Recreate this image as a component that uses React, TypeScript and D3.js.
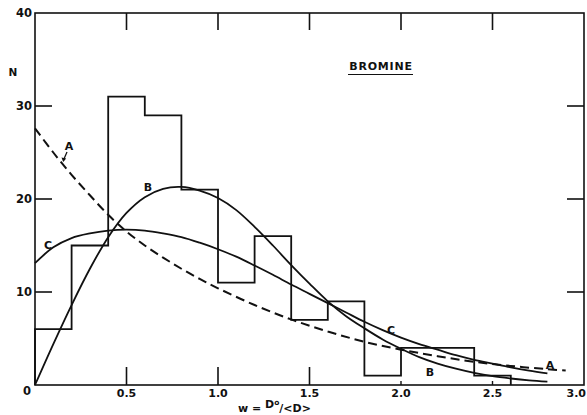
import React from "react";
import * as d3 from "d3";

// Histogram of level spacings (bin width 0.2 in w)
const binEdges = [0, 0.2, 0.4, 0.6, 0.8, 1.0, 1.2, 1.4, 1.6, 1.8, 2.0, 2.2, 2.4, 2.6];
const binCounts = [6, 15, 31, 29, 21, 11, 16, 7, 9, 1, 4, 4, 1];

// Curve A (dashed)
const curveAx = [0, 0.1, 0.2, 0.3, 0.4, 0.5, 0.6, 0.7, 0.8, 0.9, 1.0, 1.2, 1.4, 1.6, 1.8, 2.0, 2.2, 2.4, 2.6, 2.8, 2.9];
const curveAy = [27.6, 25.0, 22.6, 20.4, 18.3, 16.5, 15.0, 13.7, 12.5, 11.4, 10.4, 8.6, 7.05, 5.75, 4.65, 3.8, 3.1, 2.5, 2.05, 1.7, 1.55];

// Curve B
const curveBx = [0, 0.1, 0.2, 0.3, 0.4, 0.5, 0.6, 0.7, 0.8, 0.9, 1.0, 1.1, 1.2, 1.3, 1.4, 1.5, 1.6, 1.7, 1.8, 1.9, 2.0, 2.1, 2.2, 2.3, 2.4, 2.5, 2.6, 2.7, 2.8];
const curveBy = [0, 4.4, 8.6, 12.5, 15.9, 18.5, 20.2, 21.1, 21.3, 20.9, 20.1, 18.8, 17.0, 15.0, 12.9, 10.9, 9.0, 7.4, 6.1, 4.9, 3.9, 3.0, 2.3, 1.75, 1.3, 0.95, 0.7, 0.5, 0.36];

// Curve C
const curveCx = [0, 0.1, 0.2, 0.3, 0.4, 0.5, 0.6, 0.7, 0.8, 0.9, 1.0, 1.1, 1.2, 1.3, 1.4, 1.5, 1.6, 1.7, 1.8, 1.9, 2.0, 2.1, 2.2, 2.3, 2.4, 2.5, 2.6, 2.7, 2.8];
const curveCy = [13.1, 14.8, 15.8, 16.3, 16.6, 16.7, 16.6, 16.3, 15.9, 15.3, 14.6, 13.8, 12.85, 11.85, 10.8, 9.8, 8.8, 7.8, 6.8, 5.9, 5.1, 4.4, 3.8, 3.2, 2.7, 2.3, 1.9, 1.55, 1.25];

const xTicks = [0.5, 1.0, 1.5, 2.0, 2.5, 3.0];
const xTickLabels = ["0.5", "1.0", "1.5", "2.0", "2.5", "3.0"];
const yTicks = [0, 10, 20, 30, 40];
const yTickLabels = ["0", "10", "20", "30", "40"];

const W = 587;
const H = 415;
const FONT = "'DejaVu Sans', 'Liberation Sans', sans-serif";

export default function App() {
  const x = d3.scaleLinear().domain([0, 3]).range([35, 584]);
  const y = d3.scaleLinear().domain([0, 40]).range([385, 13]);

  // Step outline of the histogram
  const steps: [number, number][] = [[0, 0]];
  binCounts.forEach((c, i) => {
    steps.push([binEdges[i], c]);
    steps.push([binEdges[i + 1], c]);
  });
  steps.push([binEdges[binEdges.length - 1], 0]);
  const histPath = d3
    .line<[number, number]>()
    .x((d) => x(d[0]))
    .y((d) => y(d[1]))(steps) as string;

  const smooth = (xs: number[], ys: number[]) =>
    d3
      .line<number>()
      .x((_, i) => x(xs[i]))
      .y((_, i) => y(ys[i]))
      .curve(d3.curveCatmullRom.alpha(0.5))(ys) as string;

  const ink = "#111";

  return (
    <svg
      width={W}
      height={H}
      style={{ position: "absolute", left: 0, top: 0, background: "#fff" }}
      fontFamily={FONT}
    >
      <rect x={0} y={0} width={W} height={H} fill="#fff" />
      {/* frame */}
      <rect
        x={x(0)}
        y={y(40)}
        width={x(3) - x(0)}
        height={y(0) - y(40)}
        fill="none"
        stroke={ink}
        strokeWidth={1.6}
      />
      {/* left and right inner ticks */}
      {[10, 20, 30].map((t) => (
        <g key={"yt" + t}>
          <line x1={x(0)} x2={x(0) + 17} y1={y(t)} y2={y(t)} stroke={ink} strokeWidth={1.6} />
          <line x1={x(3)} x2={x(3) - 17} y1={y(t)} y2={y(t)} stroke={ink} strokeWidth={1.6} />
        </g>
      ))}
      {/* bottom ticks */}
      {[0.5, 1.0, 1.5].map((t) => (
        <line key={"xb" + t} x1={x(t)} x2={x(t)} y1={y(0)} y2={y(0) - 18} stroke={ink} strokeWidth={1.6} />
      ))}
      {[2.0, 2.5].map((t) => (
        <line key={"xs" + t} x1={x(t)} x2={x(t)} y1={y(0)} y2={y(0) - 4} stroke={ink} strokeWidth={1.4} />
      ))}
      {/* top ticks */}
      {[0.5, 1.0, 1.5, 2.0, 2.5].map((t) => (
        <line key={"xt" + t} x1={x(t)} x2={x(t)} y1={y(40)} y2={y(40) + 17} stroke={ink} strokeWidth={1.6} />
      ))}

      {/* histogram */}
      <path d={histPath} fill="none" stroke={ink} strokeWidth={1.8} strokeLinejoin="miter" />

      {/* curves */}
      <path d={smooth(curveAx, curveAy)} fill="none" stroke={ink} strokeWidth={2} strokeDasharray="9 5" />
      <path d={smooth(curveBx, curveBy)} fill="none" stroke={ink} strokeWidth={1.8} />
      <path d={smooth(curveCx, curveCy)} fill="none" stroke={ink} strokeWidth={1.8} />

      {/* curve labels */}
      <g fontSize={11} fontWeight="bold" fill={ink}>
        <text x={69} y={150} textAnchor="middle">A</text>
        <text x={148} y={191} textAnchor="middle">B</text>
        <text x={48} y={249} textAnchor="middle">C</text>
        <text x={391} y={334} textAnchor="middle">C</text>
        <text x={430} y={376} textAnchor="middle">B</text>
        <text x={550} y={369} textAnchor="middle">A</text>
      </g>
      {/* arrow from A label to dashed curve */}
      <line x1={67} y1={152} x2={63.5} y2={160} stroke={ink} strokeWidth={1.3} />
      <path d="M 61.5 157.5 L 63.2 162 L 66.2 158.6 Z" fill={ink} />

      {/* title */}
      <text x={381} y={70} textAnchor="middle" fontSize={11} fontWeight="bold" letterSpacing={0.8} fill={ink}>
        BROMINE
      </text>
      <line x1={348} x2={413} y1={74.5} y2={74.5} stroke={ink} strokeWidth={1.1} />

      {/* y tick labels */}
      <g fontSize={11.5} fontWeight="bold" fill={ink} textAnchor="end">
        {yTicks.map((t, i) => (
          <text key={"yl" + t} x={t === 0 ? 31 : 32} y={t === 0 ? y(t) + 10 : y(t) + 4}>
            {yTickLabels[i]}
          </text>
        ))}
      </g>
      <text x={13} y={76} fontSize={10.5} fontWeight="bold" textAnchor="middle" fill={ink}>N</text>

      {/* x tick labels */}
      <g fontSize={11} fontWeight="bold" fill={ink}>
        {xTicks.map((t, i) => (
          <text
            key={"xl" + t}
            x={t === 3 ? 586 : x(t)}
            y={397}
            textAnchor={t === 3 ? "end" : "middle"}
          >
            {xTickLabels[i]}
          </text>
        ))}
      </g>

      {/* x axis title */}
      <text x={238} y={412} fontSize={11} fontWeight="bold" fill={ink}>
        w = <tspan dy={-4.5}>D</tspan>
        <tspan fontSize={7.5} dy={-3}>o</tspan>
        <tspan dy={7.5}>/&lt;D&gt;</tspan>
      </text>
    </svg>
  );
}
